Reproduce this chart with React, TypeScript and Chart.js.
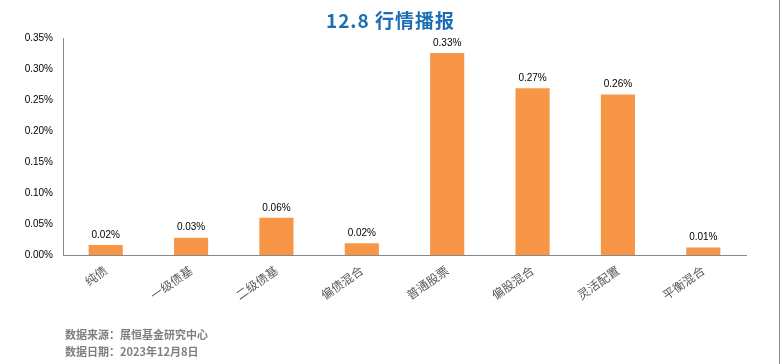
import React, { useEffect, useRef } from "react";
import { Chart, registerables } from "chart.js";

Chart.register(...registerables);

const categories = ["纯债", "一级债基", "二级债基", "偏债混合", "普通股票", "偏股混合", "灵活配置", "平衡混合"];
const values = [0.016, 0.028, 0.06, 0.019, 0.326, 0.269, 0.259, 0.012];
const yTicks = [0, 0.05, 0.1, 0.15, 0.2, 0.25, 0.3, 0.35];
const titleText = "12.8 行情播报";
const footerLines = ["数据来源：展恒基金研究中心", "数据日期：2023年12月8日"];

const valueLabelPlugin = {
  id: "valueLabels",
  afterDatasetsDraw(chart: any) {
    const ctx = chart.ctx;
    const meta = chart.getDatasetMeta(0);
    ctx.save();
    ctx.font = "10px 'Liberation Sans', Arial, sans-serif";
    ctx.fillStyle = "#000000";
    ctx.textAlign = "center";
    ctx.textBaseline = "bottom";
    meta.data.forEach((bar: any, i: number) => {
      const v = values[i];
      ctx.fillText(v.toFixed(2) + "%", bar.x, bar.y - 5);
    });
    ctx.restore();
  },
};

export default function App() {
  const ref = useRef<HTMLCanvasElement | null>(null);
  useEffect(() => {
    document.body.style.margin = "0";
    if (!ref.current) return;
    const chart = new Chart(ref.current, {
      type: "bar",
      data: {
        labels: categories,
        datasets: [
          {
            data: values,
            backgroundColor: "#F79646",
            barPercentage: 0.8,
            categoryPercentage: 0.5,
          },
        ],
      },
      options: {
        responsive: false,
        animation: false,
        layout: { padding: { left: 0, right: 35, top: 38, bottom: 0 } },
        plugins: {
          legend: { display: false },
          tooltip: { enabled: false },
          title: { display: false },
        },
        scales: {
          x: {
            grid: { display: false, drawTicks: false },
            border: { display: true, color: "#888888", width: 1 },
            ticks: {
              color: "#595959",
              font: { family: "'Noto Sans CJK SC', serif", size: 12 },
              maxRotation: 35,
              minRotation: 35,
              padding: 8,
              autoSkip: false,
            },
            afterFit(scale: any) {
              scale.height = 109;
            },
          },
          y: {
            min: 0,
            max: 0.35,
            afterBuildTicks(scale: any) {
              scale.ticks = yTicks.map((v) => ({ value: v }));
            },
            grid: { display: false, drawTicks: false },
            border: { display: true, color: "#888888", width: 1 },
            ticks: {
              color: "#000000",
              font: { family: "'Liberation Sans', Arial, sans-serif", size: 10 },
              padding: 10,
              callback: (v: any) => Number(v).toFixed(2) + "%",
            },
            afterFit(scale: any) {
              scale.width = 63;
            },
          },
        },
      },
      plugins: [valueLabelPlugin],
    });
    return () => chart.destroy();
  }, []);

  return (
    <div style={{ position: "relative", width: 781, height: 364, background: "#ffffff", overflow: "hidden" }}>
      <canvas ref={ref} width={781} height={364} style={{ position: "absolute", left: 0, top: 0 }} />
      <div
        style={{
          position: "absolute",
          left: 0,
          width: 781,
          top: 7,
          textAlign: "center",
          color: "#1C6EB4",
          fontWeight: "bold",
          fontSize: 19,
          fontFamily: "'Noto Sans CJK SC', sans-serif",
          lineHeight: "26px",
          letterSpacing: 1,
        }}
      >
        {titleText}
      </div>
      <div
        style={{
          position: "absolute",
          left: 65,
          top: 326,
          color: "#7F7F7F",
          fontWeight: "bold",
          fontSize: 11,
          fontFamily: "'Noto Sans CJK SC', sans-serif",
          lineHeight: "17px",
        }}
      >
        {footerLines.map((l, i) => (
          <div key={i}>{l}</div>
        ))}
      </div>
      <div style={{ position: "absolute", left: 779, top: 0, width: 1, height: 364, background: "#8c8c8c" }} />
    </div>
  );
}
